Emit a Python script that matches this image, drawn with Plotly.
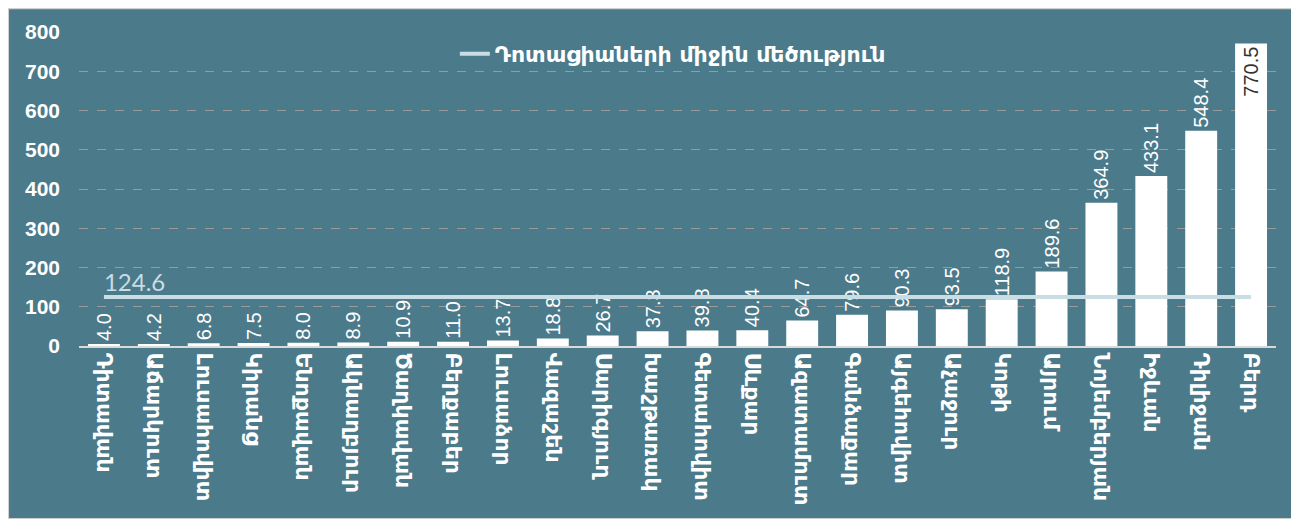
import plotly.graph_objects as go

communities = [
    "Դիտավան", "Աճարկուտ", "Լուսահովիտ", "Կիրանց", "Ենոքավան", "Ակնաղբյուր",
    "Ծաղկավան", "Բերքաբեր", "Լուսաձոր", "Վազաշեն", "Սարիգյուղ", "Խաշթառակ",
    "Գետահովիտ", "Սևքար", "Ազատամուտ", "Գանձաքար", "Այգեհովիտ", "Աչաջուր",
    "Կոթի", "Այրում", "Նոյեմբերյան", "Իջևան", "Դիլիջան", "Բերդ",
]
grants = [
    4.0, 4.2, 6.8, 7.5, 8.0, 8.9, 10.9, 11.0, 13.7, 18.8, 26.7, 37.3,
    39.8, 40.4, 64.7, 79.6, 90.3, 93.5, 118.9, 189.6, 364.9, 433.1, 548.4, 770.5,
]
average_grant = 124.6
average_name = "Դոտացիաների միջին մեծություն"

bg = "#4b7a8b"

# last bar is too tall for an outside label
label_pos = ["outside"] * (len(grants) - 1) + ["inside"]
label_col = ["white"] * (len(grants) - 1) + ["#333333"]

fig = go.Figure()

fig.add_trace(
    go.Bar(
        x=communities,
        y=grants,
        marker=dict(color="white", line=dict(width=0)),
        text=[f"{v:.1f}" for v in grants],
        textposition=label_pos,
        insidetextanchor="end",
        textangle=-90,
        constraintext="none",
        textfont=dict(family="Liberation Sans", size=20, color=label_col),
        cliponaxis=False,
        showlegend=False,
    )
)

fig.add_trace(
    go.Scatter(
        x=communities,
        y=[average_grant] * len(communities),
        mode="lines+text",
        line=dict(color="#c9dde4", width=4),
        text=[f"{average_grant:.1f}"] + [""] * (len(communities) - 1),
        textposition="top right",
        textfont=dict(family="Lato", size=24, color="#c9dde4"),
        cliponaxis=False,
        name=average_name,
    )
)

fig.update_layout(
    width=1289,
    height=511,
    margin=dict(l=71, r=21, t=24, b=173),
    paper_bgcolor=bg,
    plot_bgcolor=bg,
    bargap=0.36,
    font=dict(family="DejaVu Sans", color="white"),
    legend=dict(
        orientation="h",
        x=0.314,
        xanchor="left",
        y=0.93,
        yanchor="middle",
        bgcolor="rgba(0,0,0,0)",
        font=dict(family="DejaVu Sans", size=22, color="white", weight="bold"),
    ),
    shapes=[
        dict(
            type="rect", xref="paper", yref="paper",
            x0=-0.0593, x1=1.0175, y0=-0.551, y1=1.076,
            line=dict(color="#d0d0d0", width=2),
        )
    ],
)

fig.update_xaxes(
    range=[-0.5, len(communities) - 0.5],
    tickangle=90,
    tickfont=dict(family="DejaVu Sans", size=22, color="white", weight="bold"),
    showline=True,
    linecolor="#d9d9d9",
    linewidth=2,
    ticks="",
    automargin=False,
)

fig.update_yaxes(
    range=[0, 800],
    dtick=100,
    showgrid=True,
    gridcolor="#9a9a9a",
    griddash="dash",
    gridwidth=1,
    zeroline=False,
    tickfont=dict(family="Liberation Sans", size=21, color="white", weight="bold"),
    ticklabelstandoff=18,
    automargin=False,
)

fig.write_html("out.html")
